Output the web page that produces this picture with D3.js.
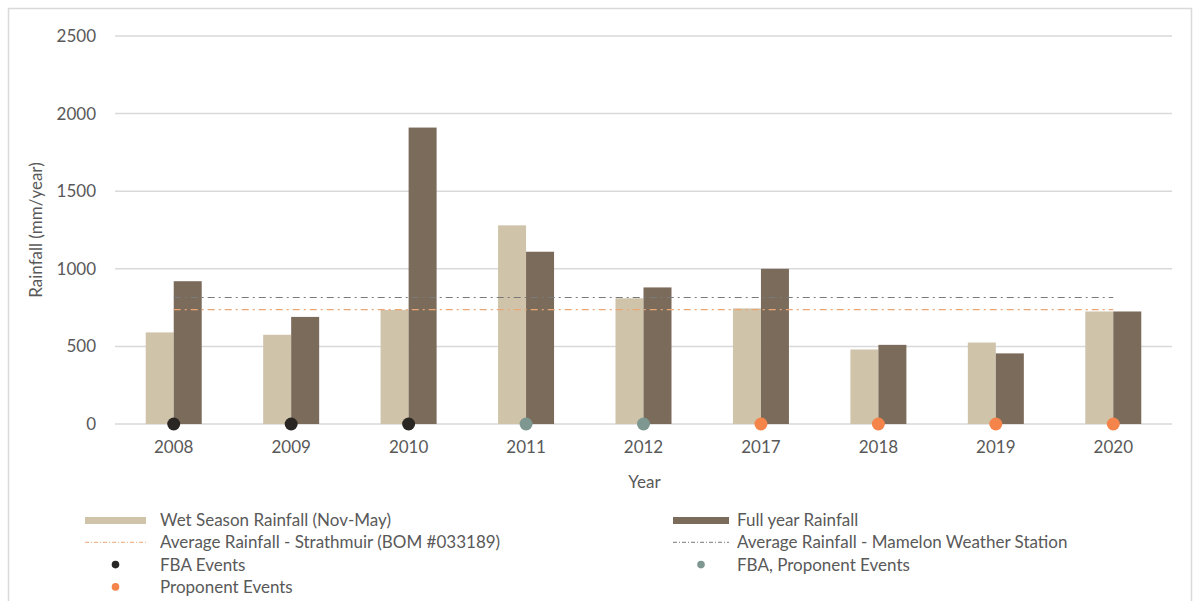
<!DOCTYPE html>
<html>
<head>
<meta charset="utf-8">
<script src="https://cdn.jsdelivr.net/npm/d3@7/dist/d3.min.js"></script>
<style>
  html, body { margin: 0; padding: 0; background: #fff; }
  svg { display: block; font-family: Lato, "Open Sans", sans-serif; }
</style>
</head>
<body>
<svg id="chart" width="1194" height="601"></svg>
<script>
// Rainfall per year (mm/year)
const years = ["2008", "2009", "2010", "2011", "2012", "2017", "2018", "2019", "2020"];
const wetSeason = [590, 575, 735, 1280, 810, 745, 480, 525, 725];
const fullYear = [920, 690, 1910, 1110, 880, 1000, 510, 455, 725];
const avgStrathmuir = 737;
const avgMamelon = 815;
// Event type recorded for each year
const events = ["FBA", "FBA", "FBA", "FBA, Proponent", "FBA, Proponent", "Proponent", "Proponent", "Proponent", "Proponent"];
const yTicks = [0, 500, 1000, 1500, 2000, 2500];

const colors = {
  wet: "#cfc3aa",
  full: "#7b6b5a",
  strath: "#eba676",
  mamelon: "#7a7a7a",
  "FBA": "#2a2623",
  "FBA, Proponent": "#7e9790",
  "Proponent": "#f4844a",
  text: "#595959",
  grid: "#d9d9d9"
};

const svg = d3.select("#chart");

// Outer chart frame
svg.append("rect")
  .attr("x", 8.5).attr("y", 8.5)
  .attr("width", 1183).attr("height", 600)
  .attr("fill", "none").attr("stroke", "#d9d9d9").attr("stroke-width", 1.5);

const plot = { left: 115, right: 1172, top: 36, bottom: 424 };

const x = d3.scaleBand().domain(years).range([plot.left, plot.right]).paddingInner(0).paddingOuter(0);
const y = d3.scaleLinear().domain([0, 2500]).range([plot.bottom, plot.top]);
const barW = 28;

// Horizontal gridlines
svg.append("g").selectAll("line").data(yTicks).join("line")
  .attr("x1", plot.left).attr("x2", plot.right)
  .attr("y1", d => y(d)).attr("y2", d => y(d))
  .attr("stroke", colors.grid).attr("stroke-width", 1.5);

// Y axis tick labels
const yAxis = d3.axisLeft(y).tickValues(yTicks).tickFormat(d3.format("d")).tickSize(0).tickPadding(0);
const gy = svg.append("g").attr("transform", `translate(${plot.left - 19},0)`).call(yAxis);
gy.select(".domain").remove();
gy.selectAll("text").attr("fill", colors.text).style("font-size", "17px").style("font-family", "Lato, sans-serif");

// X axis tick labels
const xAxis = d3.axisBottom(x).tickSize(0).tickPadding(0);
const gx = svg.append("g").attr("transform", `translate(0,${plot.bottom + 17})`).call(xAxis);
gx.select(".domain").remove();
gx.selectAll("text").attr("fill", colors.text).style("font-size", "17px").style("font-family", "Lato, sans-serif");

// Bars
const c = d => x(d) + x.bandwidth() / 2;
svg.append("g").selectAll("rect").data(years).join("rect")
  .attr("x", d => c(d) - barW).attr("width", barW)
  .attr("y", (d, i) => y(wetSeason[i])).attr("height", (d, i) => y(0) - y(wetSeason[i]))
  .attr("fill", colors.wet);
svg.append("g").selectAll("rect").data(years).join("rect")
  .attr("x", d => c(d)).attr("width", barW)
  .attr("y", (d, i) => y(fullYear[i])).attr("height", (d, i) => y(0) - y(fullYear[i]))
  .attr("fill", colors.full);

// Average rainfall lines, spanning first to last year
const avgLine = (val, col) => svg.append("line")
  .attr("x1", c(years[0])).attr("x2", c(years[years.length - 1]))
  .attr("y1", y(val)).attr("y2", y(val))
  .attr("stroke", col).attr("stroke-width", 1.1)
  .attr("stroke-dasharray", "7,4,2,4");
avgLine(avgStrathmuir, colors.strath);
avgLine(avgMamelon, colors.mamelon);

// Event markers at zero
svg.append("g").selectAll("circle").data(years).join("circle")
  .attr("cx", d => c(d)).attr("cy", y(0))
  .attr("r", 6.5)
  .attr("fill", (d, i) => colors[events[i]]);

// Axis titles
svg.append("text")
  .attr("transform", `translate(42,${(plot.top + plot.bottom) / 2}) rotate(-90)`)
  .attr("text-anchor", "middle").attr("fill", colors.text)
  .style("font-size", "17px").text("Rainfall (mm/year)");
svg.append("text")
  .attr("x", c("2012") + 1).attr("y", 488)
  .attr("text-anchor", "middle").attr("fill", colors.text)
  .style("font-size", "17px").text("Year");

// Legend
const legendItems = [
  { label: "Wet Season Rainfall (Nov-May)", type: "bar", color: colors.wet, col: 0, row: 0 },
  { label: "Full year Rainfall", type: "bar", color: colors.full, col: 1, row: 0 },
  { label: "Average Rainfall - Strathmuir (BOM #033189)", type: "line", color: colors.strath, col: 0, row: 1 },
  { label: "Average Rainfall - Mamelon Weather Station", type: "line", color: colors.mamelon, col: 1, row: 1 },
  { label: "FBA Events", type: "dot", color: colors["FBA"], col: 0, row: 2 },
  { label: "FBA, Proponent Events", type: "dot", color: colors["FBA, Proponent"], col: 1, row: 2 },
  { label: "Proponent Events", type: "dot", color: colors["Proponent"], col: 0, row: 3 }
];
const colX = [{ sw: 85, text: 160 }, { sw: 673, text: 737 }];
const swW = [61, 56];
const leg = svg.append("g");
legendItems.forEach(it => {
  const cy = 520 + it.row * 22.3;
  const cx = colX[it.col];
  const w = swW[it.col];
  if (it.type === "bar") {
    leg.append("rect").attr("x", cx.sw).attr("y", cy - 3).attr("width", w).attr("height", 7).attr("fill", it.color);
  } else if (it.type === "line") {
    leg.append("line").attr("x1", cx.sw).attr("x2", cx.sw + w).attr("y1", cy).attr("y2", cy)
      .attr("stroke", it.color).attr("stroke-width", 1).attr("stroke-dasharray", "4,2,1,2");
  } else {
    leg.append("circle").attr("cx", cx.sw + w / 2).attr("cy", cy).attr("r", 3.8).attr("fill", it.color);
  }
  leg.append("text").attr("x", cx.text).attr("y", cy + 6)
    .attr("fill", colors.text).style("font-size", "17px").text(it.label);
});
</script>
</body>
</html>
